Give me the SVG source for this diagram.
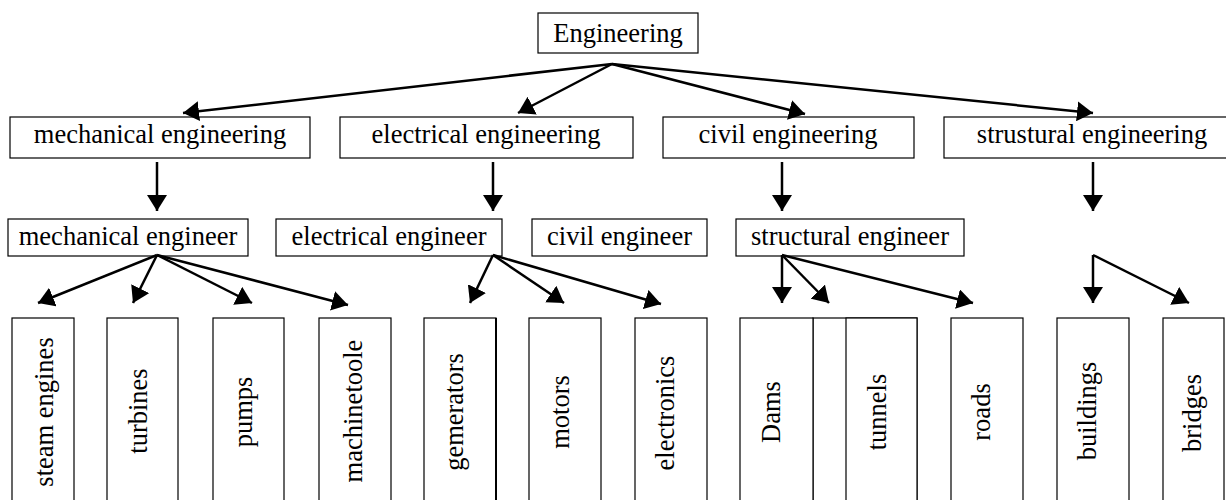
<svg xmlns="http://www.w3.org/2000/svg" width="1226" height="500" viewBox="0 0 1226 500">
<style>
rect{fill:#fff;stroke:#000;stroke-width:1.2}
text{font-family:"Liberation Serif","Times New Roman",serif;font-size:26.5px;fill:#000;text-anchor:middle}
.c line,.c polyline{stroke:#000;stroke-width:2.5;fill:none;marker-end:url(#ah)}
</style>
<defs>
<marker id="ah" markerUnits="userSpaceOnUse" markerWidth="16" markerHeight="20" viewBox="0 0 16 20" refX="16" refY="10" orient="auto"><path d="M0,0 L16,10 L0,20 z" fill="#000"/></marker>
</defs>
<rect x="0" y="0" width="1226" height="500" style="stroke:none"/>
<g id="n-root"><rect x="538" y="13" width="160" height="40"/><text x="618" y="42">Engineering</text></g>
<g id="n-mecheng"><rect x="10" y="117" width="300" height="41"/><text x="160" y="143">mechanical engineering</text></g>
<g id="n-eleceng"><rect x="340" y="117" width="293" height="41"/><text x="486" y="143">electrical engineering</text></g>
<g id="n-civileng"><rect x="663" y="117" width="251" height="41"/><text x="788" y="143">civil engineering</text></g>
<g id="n-struseng"><rect x="944" y="117" width="296" height="41"/><text x="1092" y="143">strustural engineering</text></g>
<g id="n-mechr"><rect x="8" y="219" width="240" height="37"/><text x="128" y="245">mechanical engineer</text></g>
<g id="n-elecr"><rect x="276" y="219" width="226" height="37"/><text x="389" y="245">electrical engineer</text></g>
<g id="n-civilr"><rect x="532" y="219" width="175" height="37"/><text x="619.5" y="245">civil engineer</text></g>
<g id="n-structr"><rect x="736" y="219" width="228" height="37"/><text x="850" y="245">structural engineer</text></g>
<g id="n-steam"><rect x="12" y="318" width="62" height="200"/><text transform="translate(53,412) rotate(-90)">steam engines</text></g>
<g id="n-turbines"><rect x="107" y="318" width="71" height="200"/><text transform="translate(147,411) rotate(-90)">turbines</text></g>
<g id="n-pumps"><rect x="213" y="318" width="71" height="200"/><text transform="translate(252,412) rotate(-90)">pumps</text></g>
<g id="n-machine"><rect x="319" y="318" width="72" height="200"/><text transform="translate(362,411) rotate(-90)">machinetoole</text></g>
<g id="n-gem"><rect x="424" y="318" width="72" height="200"/><line x1="496" y1="318" x2="496" y2="500" stroke="#000" stroke-width="2"/><text transform="translate(463,412) rotate(-90)">gemerators</text></g>
<g id="n-motors"><rect x="529" y="318" width="72" height="200"/><text transform="translate(569,412) rotate(-90)">motors</text></g>
<g id="n-electronics"><rect x="635" y="318" width="72" height="200"/><text transform="translate(674,413) rotate(-90)">electronics</text></g>
<g id="n-blank"><rect x="813" y="318" width="104" height="200"/></g>
<g id="n-dams"><rect x="740" y="318" width="73" height="200"/><text transform="translate(780,412) rotate(-90)">Dams</text></g>
<g id="n-tunnels"><rect x="846" y="318" width="71" height="200"/><text transform="translate(886,412) rotate(-90)">tunnels</text></g>
<g id="n-roads"><rect x="951" y="318" width="72" height="200"/><text transform="translate(990,412) rotate(-90)">roads</text></g>
<g id="n-buildings"><rect x="1057" y="318" width="72" height="200"/><text transform="translate(1096,411) rotate(-90)">buildings</text></g>
<g id="n-bridges"><rect x="1163" y="318" width="61" height="200"/><text transform="translate(1201,413) rotate(-90)">bridges</text></g>
<g id="connectors" class="c">
<line x1="612" y1="64" x2="183" y2="113"/>
<line x1="612" y1="64" x2="518" y2="113"/>
<line x1="612" y1="64" x2="805" y2="114"/>
<line x1="612" y1="64" x2="1093" y2="113"/>
<line x1="157" y1="162" x2="157" y2="211"/>
<line x1="493" y1="162" x2="493" y2="211"/>
<line x1="782" y1="162" x2="782" y2="211"/>
<line x1="1093" y1="162" x2="1093" y2="211"/>
<line x1="157" y1="255" x2="38" y2="303"/>
<line x1="157" y1="255" x2="133" y2="303"/>
<line x1="157" y1="255" x2="252" y2="303"/>
<line x1="157" y1="255" x2="348" y2="305"/>
<line x1="493" y1="255" x2="470" y2="303"/>
<line x1="493" y1="255" x2="564" y2="303"/>
<line x1="493" y1="255" x2="661" y2="304"/>
<line x1="782" y1="255" x2="782" y2="303"/>
<line x1="782" y1="255" x2="829" y2="303"/>
<line x1="782" y1="255" x2="973" y2="303"/>
<line x1="1093" y1="255" x2="1093" y2="303"/>
<line x1="1093" y1="255" x2="1189" y2="303"/>
</g>
</svg>
